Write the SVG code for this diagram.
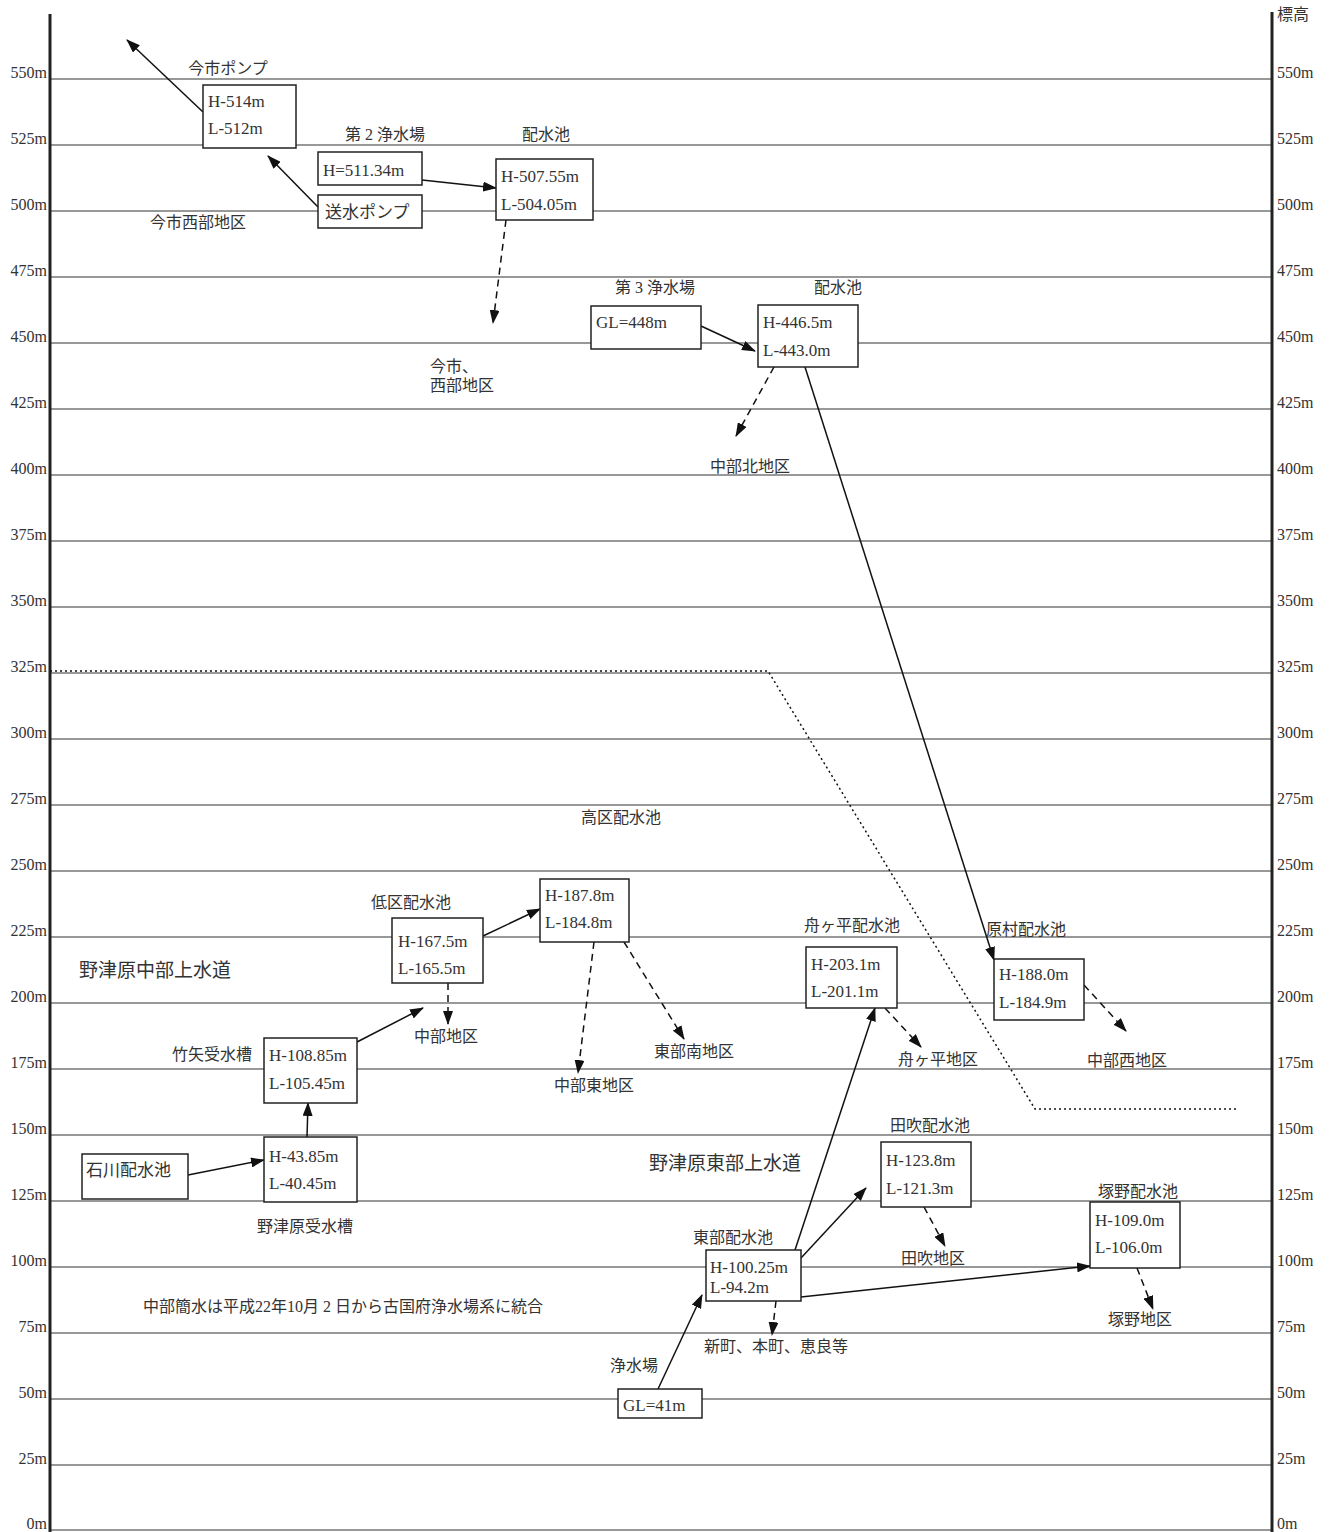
<svg xmlns="http://www.w3.org/2000/svg" width="1330" height="1532" viewBox="0 0 1330 1532">
<style>
.grid{stroke:#333;stroke-width:1.2}
.axis{stroke:#222;stroke-width:3}
.box{fill:#fff;stroke:#222;stroke-width:1.5}
.t{font-family:"Liberation Serif","Noto Sans CJK JP",serif;font-size:16px;fill:#333}
.v{font-family:"Liberation Serif","Noto Sans CJK JP",serif;font-size:17px;fill:#333}
.big{font-family:"Liberation Serif","Noto Sans CJK JP",serif;font-size:19px;fill:#333}
.l{text-anchor:end}
.c{text-anchor:middle}
.sol{stroke:#111;stroke-width:1.5;fill:none}
.dash{stroke:#111;stroke-width:1.5;fill:none;stroke-dasharray:7,5}
.dot{stroke:#111;stroke-width:1.5;fill:none;stroke-dasharray:2,3}
</style>
<defs>
<marker id="ah" viewBox="0 0 14 10" refX="13" refY="5" markerWidth="14" markerHeight="10" markerUnits="userSpaceOnUse" orient="auto">
<path d="M0,0 L14,5 L0,10 z" fill="#111"/>
</marker>
</defs>
<rect width="1330" height="1532" fill="#fff"/>
<g id="grid">
<line class="grid" x1="50" y1="79" x2="1272" y2="79"/>
<line class="grid" x1="50" y1="145" x2="1272" y2="145"/>
<line class="grid" x1="50" y1="211" x2="1272" y2="211"/>
<line class="grid" x1="50" y1="277" x2="1272" y2="277"/>
<line class="grid" x1="50" y1="343" x2="1272" y2="343"/>
<line class="grid" x1="50" y1="409" x2="1272" y2="409"/>
<line class="grid" x1="50" y1="475" x2="1272" y2="475"/>
<line class="grid" x1="50" y1="541" x2="1272" y2="541"/>
<line class="grid" x1="50" y1="607" x2="1272" y2="607"/>
<line class="grid" x1="50" y1="673" x2="1272" y2="673"/>
<line class="grid" x1="50" y1="739" x2="1272" y2="739"/>
<line class="grid" x1="50" y1="805" x2="1272" y2="805"/>
<line class="grid" x1="50" y1="871" x2="1272" y2="871"/>
<line class="grid" x1="50" y1="937" x2="1272" y2="937"/>
<line class="grid" x1="50" y1="1003" x2="1272" y2="1003"/>
<line class="grid" x1="50" y1="1069" x2="1272" y2="1069"/>
<line class="grid" x1="50" y1="1135" x2="1272" y2="1135"/>
<line class="grid" x1="50" y1="1201" x2="1272" y2="1201"/>
<line class="grid" x1="50" y1="1267" x2="1272" y2="1267"/>
<line class="grid" x1="50" y1="1333" x2="1272" y2="1333"/>
<line class="grid" x1="50" y1="1399" x2="1272" y2="1399"/>
<line class="grid" x1="50" y1="1465" x2="1272" y2="1465"/>
<line class="grid" x1="50" y1="1530" x2="1272" y2="1530"/>
<line class="axis" x1="50" y1="14" x2="50" y2="1532"/>
<line class="axis" x1="1272" y1="12" x2="1272" y2="1532"/>
</g>
<g id="axis-labels">
<text class="t l" x="47" y="78">550m</text>
<text class="t l" x="47" y="144">525m</text>
<text class="t l" x="47" y="210">500m</text>
<text class="t l" x="47" y="276">475m</text>
<text class="t l" x="47" y="342">450m</text>
<text class="t l" x="47" y="408">425m</text>
<text class="t l" x="47" y="474">400m</text>
<text class="t l" x="47" y="540">375m</text>
<text class="t l" x="47" y="606">350m</text>
<text class="t l" x="47" y="672">325m</text>
<text class="t l" x="47" y="738">300m</text>
<text class="t l" x="47" y="804">275m</text>
<text class="t l" x="47" y="870">250m</text>
<text class="t l" x="47" y="936">225m</text>
<text class="t l" x="47" y="1002">200m</text>
<text class="t l" x="47" y="1068">175m</text>
<text class="t l" x="47" y="1134">150m</text>
<text class="t l" x="47" y="1200">125m</text>
<text class="t l" x="47" y="1266">100m</text>
<text class="t l" x="47" y="1332">75m</text>
<text class="t l" x="47" y="1398">50m</text>
<text class="t l" x="47" y="1464">25m</text>
<text class="t l" x="47" y="1529">0m</text>
<text class="t" x="1277" y="20">標高</text>
<text class="t" x="1277" y="78">550m</text>
<text class="t" x="1277" y="144">525m</text>
<text class="t" x="1277" y="210">500m</text>
<text class="t" x="1277" y="276">475m</text>
<text class="t" x="1277" y="342">450m</text>
<text class="t" x="1277" y="408">425m</text>
<text class="t" x="1277" y="474">400m</text>
<text class="t" x="1277" y="540">375m</text>
<text class="t" x="1277" y="606">350m</text>
<text class="t" x="1277" y="672">325m</text>
<text class="t" x="1277" y="738">300m</text>
<text class="t" x="1277" y="804">275m</text>
<text class="t" x="1277" y="870">250m</text>
<text class="t" x="1277" y="936">225m</text>
<text class="t" x="1277" y="1002">200m</text>
<text class="t" x="1277" y="1068">175m</text>
<text class="t" x="1277" y="1134">150m</text>
<text class="t" x="1277" y="1200">125m</text>
<text class="t" x="1277" y="1266">100m</text>
<text class="t" x="1277" y="1332">75m</text>
<text class="t" x="1277" y="1398">50m</text>
<text class="t" x="1277" y="1464">25m</text>
<text class="t" x="1277" y="1529">0m</text>
</g>
<g id="connectors">
<line class="sol" x1="203" y1="112" x2="127" y2="40" marker-end="url(#ah)"/>
<line class="sol" x1="318" y1="207" x2="268" y2="156" marker-end="url(#ah)"/>
<line class="sol" x1="422" y1="180" x2="496" y2="188" marker-end="url(#ah)"/>
<line class="dash" x1="506" y1="220" x2="493" y2="323" marker-end="url(#ah)"/>
<line class="sol" x1="701" y1="326" x2="755" y2="351" marker-end="url(#ah)"/>
<line class="dash" x1="774" y1="367" x2="736" y2="436" marker-end="url(#ah)"/>
<line class="sol" x1="805" y1="367" x2="994" y2="960" marker-end="url(#ah)"/>
<polyline class="dot" points="50,671 768,671 1035,1109 1238,1109"/>
<line class="sol" x1="483" y1="936" x2="540" y2="909" marker-end="url(#ah)"/>
<line class="dash" x1="448" y1="983" x2="448" y2="1024" marker-end="url(#ah)"/>
<line class="dash" x1="594" y1="942" x2="578" y2="1073" marker-end="url(#ah)"/>
<line class="dash" x1="624" y1="942" x2="684" y2="1039" marker-end="url(#ah)"/>
<line class="sol" x1="357" y1="1042" x2="423" y2="1008" marker-end="url(#ah)"/>
<line class="sol" x1="188" y1="1175" x2="264" y2="1160" marker-end="url(#ah)"/>
<line class="sol" x1="307" y1="1137" x2="308" y2="1103" marker-end="url(#ah)"/>
<line class="dash" x1="885" y1="1008" x2="921" y2="1047" marker-end="url(#ah)"/>
<line class="dash" x1="1084" y1="985" x2="1126" y2="1031" marker-end="url(#ah)"/>
<line class="dash" x1="924" y1="1207" x2="945" y2="1246" marker-end="url(#ah)"/>
<line class="dash" x1="1137" y1="1268" x2="1153" y2="1309" marker-end="url(#ah)"/>
<line class="sol" x1="795" y1="1250" x2="875" y2="1008" marker-end="url(#ah)"/>
<line class="sol" x1="801" y1="1258" x2="866" y2="1188" marker-end="url(#ah)"/>
<line class="sol" x1="801" y1="1297" x2="1090" y2="1266" marker-end="url(#ah)"/>
<line class="dash" x1="776" y1="1301" x2="772" y2="1335" marker-end="url(#ah)"/>
<line class="sol" x1="658" y1="1389" x2="702" y2="1295" marker-end="url(#ah)"/>
</g>
<g id="imaichi-pump">
<text class="t c" x="228" y="74">今市ポンプ</text>
<rect class="box" x="203" y="85" width="93" height="63"/>
<text class="v" x="208" y="107">H-514m</text>
<text class="v" x="208" y="134">L-512m</text>
</g>
<g id="dai2-jousui">
<text class="t c" x="385" y="140">第 2 浄水場</text>
<rect class="box" x="318" y="152" width="104" height="33"/>
<text class="v" x="323" y="176">H=511.34m</text>
</g>
<g id="sousui-pump">
<rect class="box" x="318" y="195" width="104" height="33"/>
<text class="v" x="325" y="218">送水ポンプ</text>
</g>
<g id="haisuichi-1">
<text class="t c" x="546" y="140">配水池</text>
<rect class="box" x="496" y="159" width="97" height="61"/>
<text class="v" x="501" y="182">H-507.55m</text>
<text class="v" x="501" y="210">L-504.05m</text>
</g>
<g id="imaichi-seibu">
<text class="t c" x="198" y="228">今市西部地区</text>
</g>
<g id="imaichi-seibu-2">
<text class="t" x="430" y="372">今市、</text>
<text class="t" x="430" y="391">西部地区</text>
</g>
<g id="dai3-jousui">
<text class="t c" x="655" y="293">第 3 浄水場</text>
<rect class="box" x="591" y="306" width="110" height="43"/>
<text class="v" x="596" y="328">GL=448m</text>
</g>
<g id="haisuichi-2">
<text class="t c" x="838" y="293">配水池</text>
<rect class="box" x="758" y="305" width="100" height="62"/>
<text class="v" x="763" y="328">H-446.5m</text>
<text class="v" x="763" y="356">L-443.0m</text>
</g>
<g id="chubu-kita">
<text class="t c" x="750" y="472">中部北地区</text>
</g>
<g id="kouku">
<text class="t c" x="621" y="823">高区配水池</text>
</g>
<g id="teiku">
<text class="t c" x="411" y="908">低区配水池</text>
<rect class="box" x="392" y="918" width="91" height="65"/>
<text class="v" x="398" y="947">H-167.5m</text>
<text class="v" x="398" y="974">L-165.5m</text>
</g>
<g id="box-187">
<rect class="box" x="540" y="879" width="89" height="63"/>
<text class="v" x="545" y="901">H-187.8m</text>
<text class="v" x="545" y="928">L-184.8m</text>
</g>
<g id="chubu">
<text class="t c" x="446" y="1042">中部地区</text>
</g>
<g id="chubu-higashi">
<text class="t c" x="594" y="1091">中部東地区</text>
</g>
<g id="toubu-minami">
<text class="t c" x="694" y="1057">東部南地区</text>
</g>
<g id="notsuharu-chubu">
<text class="big c" x="155" y="977">野津原中部上水道</text>
</g>
<g id="takeya">
<text class="t c" x="212" y="1060">竹矢受水槽</text>
<rect class="box" x="264" y="1038" width="93" height="65"/>
<text class="v" x="269" y="1061">H-108.85m</text>
<text class="v" x="269" y="1089">L-105.45m</text>
</g>
<g id="ishikawa">
<rect class="box" x="82" y="1154" width="106" height="45"/>
<text class="v" x="86" y="1176">石川配水池</text>
</g>
<g id="notsuharu-jusui">
<rect class="box" x="264" y="1137" width="93" height="65"/>
<text class="v" x="269" y="1162">H-43.85m</text>
<text class="v" x="269" y="1189">L-40.45m</text>
<text class="t c" x="305" y="1232">野津原受水槽</text>
</g>
<g id="funagahira">
<text class="t c" x="852" y="931">舟ヶ平配水池</text>
<rect class="box" x="806" y="947" width="91" height="61"/>
<text class="v" x="811" y="970">H-203.1m</text>
<text class="v" x="811" y="997">L-201.1m</text>
</g>
<g id="funagahira-chiku">
<text class="t c" x="938" y="1065">舟ヶ平地区</text>
</g>
<g id="haramura">
<text class="t c" x="1026" y="935">原村配水池</text>
<rect class="box" x="994" y="959" width="90" height="61"/>
<text class="v" x="999" y="980">H-188.0m</text>
<text class="v" x="999" y="1008">L-184.9m</text>
</g>
<g id="chubu-nishi">
<text class="t c" x="1127" y="1066">中部西地区</text>
</g>
<g id="notsuharu-toubu">
<text class="big c" x="725" y="1170">野津原東部上水道</text>
</g>
<g id="tabuki">
<text class="t c" x="930" y="1131">田吹配水池</text>
<rect class="box" x="881" y="1142" width="90" height="65"/>
<text class="v" x="886" y="1166">H-123.8m</text>
<text class="v" x="886" y="1194">L-121.3m</text>
</g>
<g id="tabuki-chiku">
<text class="t c" x="933" y="1264">田吹地区</text>
</g>
<g id="tsukano">
<text class="t c" x="1138" y="1197">塚野配水池</text>
<rect class="box" x="1090" y="1202" width="90" height="66"/>
<text class="v" x="1095" y="1226">H-109.0m</text>
<text class="v" x="1095" y="1253">L-106.0m</text>
</g>
<g id="tsukano-chiku">
<text class="t c" x="1140" y="1325">塚野地区</text>
</g>
<g id="toubu">
<text class="t c" x="733" y="1243">東部配水池</text>
<rect class="box" x="706" y="1250" width="95" height="51"/>
<text class="v" x="710" y="1273">H-100.25m</text>
<text class="v" x="710" y="1293">L-94.2m</text>
</g>
<g id="shinmachi">
<text class="t c" x="776" y="1352">新町、本町、恵良等</text>
</g>
<g id="jousuijou">
<text class="t c" x="634" y="1371">浄水場</text>
<rect class="box" x="618" y="1389" width="84" height="29"/>
<text class="v" x="623" y="1411">GL=41m</text>
</g>
<g id="note">
<text class="t" x="143" y="1312">中部簡水は平成22年10月 2 日から古国府浄水場系に統合</text>
</g>
</svg>
